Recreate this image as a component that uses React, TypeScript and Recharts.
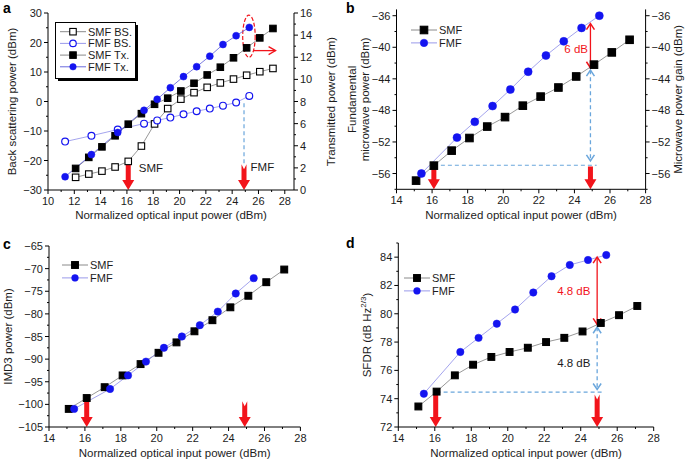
import React from 'react';
import {
  ComposedChart, Line, XAxis, YAxis, ReferenceLine, ReferenceArea, ReferenceDot, Legend,
} from 'recharts';

const FONT = '"Liberation Sans", Arial, Helvetica, sans-serif';
const RED = '#f2141b';
const BLUE = '#1414f0';
const SKY = '#6aa6dc';
const GREY_LINE = '#7d7d7d';
const LILAC_LINE = '#8d8de8';
const DEEP_LINE = '#5a5ad8';
const INK = '#1c1c1c';

// panel a: back scattering (left axis) and transmitted power (right axis)
const aSmfX = [12.1, 13.1, 14.1, 15.1, 16.1, 17.1, 18.1, 19.1, 20.1, 21.1, 22.1, 23.1, 24.1, 25.1, 26.1, 27.1];
const aSmfBs = [-25.7, -24.6, -23.6, -22.2, -20.3, -15.1, -7.6, -2.4, 0.8, 3.0, 4.8, 6.3, 7.6, 8.9, 10.1, 11.2];
const aSmfTx = [1.95, 2.95, 3.9, 4.9, 5.95, 6.9, 7.75, 8.3, 8.95, 9.65, 10.4, 11.1, 11.95, 12.85, 13.75, 14.6];
const aFmfX = [11.3, 13.3, 15.3, 17.3, 18.3, 19.3, 20.3, 21.3, 22.3, 23.3, 24.3, 25.3];
const aFmfBs = [-13.6, -11.6, -9.5, -7.5, -6.4, -5.45, -4.35, -3.3, -2.4, -1.4, -0.35, 1.9];
const aFmfTx = [1.2, 3.2, 5.2, 7.2, 8.2, 9.25, 10.25, 11.15, 12.1, 13.15, 13.95, 14.7];

// panels b-d share the input power steps
const smfX = [15.1, 16.1, 17.1, 18.1, 19.1, 20.1, 21.1, 22.1, 23.1, 24.1, 25.1, 26.1, 27.1];
const fmfX = [15.4, 17.4, 18.4, 19.4, 20.4, 21.4, 22.4, 23.4, 24.4, 25.4];

const bSmf = [-56.9, -55.0, -53.1, -51.5, -50.05, -48.85, -47.4, -46.25, -45.1, -43.7, -42.2, -40.65, -39.05];
const bFmf = [-56.0, -51.45, -49.45, -47.45, -45.35, -43.1, -41.05, -39.25, -37.55, -36.0];

const cSmf = [-101.0, -98.6, -96.2, -93.6, -91.1, -88.6, -86.3, -83.85, -81.4, -78.55, -76.0, -73.0, -70.2];
const cFmf = [-101.0, -96.6, -93.6, -90.55, -87.5, -85.0, -82.5, -79.5, -75.5, -72.1];

const dSmf = [73.45, 74.5, 75.65, 76.4, 76.95, 77.3, 77.6, 78.0, 78.3, 78.75, 79.35, 79.9, 80.55];
const dFmf = [74.35, 77.3, 78.3, 79.3, 80.3, 81.5, 82.65, 83.45, 83.8, 84.15];

// axis ticks (minor ticks carry no label)
const steps = (from: number, to: number, step: number) => {
  const out: number[] = [];
  for (let v = from; v <= to + 1e-9; v += step) out.push(Math.round(v * 100) / 100);
  return out;
};
const aXTicks = steps(10, 28, 1);
const aLTicks = steps(-30, 30, 5);
const aRTicks = steps(0, 16, 1);
const xTicks = steps(14, 28, 1);
const bYTicks = steps(-58, -36, 2);
const cYTicks = steps(-105, -65, 2.5);
const dYTicks = steps(72, 85, 1);

const pts = (xs: number[], ys: number[]) => xs.map((x, i) => ({ x, y: ys[i] }));
const minus = (v: number) => String(v).replace('-', '\u2212');

const axisTick = (side: 'bottom' | 'left' | 'right', isMajor: (v: number) => boolean) => (p: any) => {
  const { x, y, payload } = p;
  const v = payload.value;
  const big = isMajor(v);
  const len = big ? 4 : 2;
  if (side === 'bottom') {
    return (
      <g>
        <line x1={x} y1={y} x2={x} y2={y + len} stroke="#000" />
        {big && <text x={x} y={y + 15} textAnchor="middle" fontSize={11} fill={INK}>{minus(v)}</text>}
      </g>
    );
  }
  const s = side === 'left' ? -1 : 1;
  return (
    <g>
      <line x1={x} y1={y} x2={x + s * len} y2={y} stroke="#000" />
      {big && (
        <text x={x + s * 6} y={y + 4} textAnchor={side === 'left' ? 'end' : 'start'} fontSize={11} fill={INK}>
          {minus(v)}
        </text>
      )}
    </g>
  );
};

const even = (v: number) => v % 2 === 0;

const hTitle = (text: string, base: number) => (p: any) => {
  const vb = p.viewBox || { x: 0, y: 0, width: 0, height: 0 };
  return (
    <text x={vb.x + vb.width / 2} y={vb.y + base} textAnchor="middle" fontSize={11.5} fill={INK}>{text}</text>
  );
};

const vTitle = (lines: React.ReactNode[], dxs: number[]) => (p: any) => {
  const vb = p.viewBox || { x: 0, y: 0, width: 0, height: 0 };
  const cy = vb.y + vb.height / 2;
  return (
    <g>
      {lines.map((ln, i) => {
        const cx = vb.x + vb.width / 2 + dxs[i];
        return (
          <text key={i} x={cx} y={cy} transform={`rotate(-90 ${cx} ${cy})`} textAnchor="middle"
            dominantBaseline="central" fontSize={11.5} fill={INK}>{ln}</text>
        );
      })}
    </g>
  );
};

type MarkKind = 'square' | 'openSquare' | 'dot' | 'ring';

const Mark = ({ kind, cx, cy, s }: { kind: MarkKind; cx: number; cy: number; s: number }) => {
  if (kind === 'square' || kind === 'openSquare') {
    return (
      <rect x={cx - s / 2} y={cy - s / 2} width={s} height={s}
        fill={kind === 'square' ? '#000' : '#fff'} stroke="#000" strokeWidth={1.1} />
    );
  }
  return (
    <circle cx={cx} cy={cy} r={s / 2} fill={kind === 'dot' ? BLUE : '#fff'} stroke={BLUE}
      strokeWidth={kind === 'ring' ? 1.2 : 0.5} />
  );
};

const markDot = (kind: MarkKind, s: number) => (p: any) => (
  <Mark key={`m-${p.index}`} kind={kind} cx={p.cx} cy={p.cy} s={s} />
);

// thick red "look here" arrow, drawn along a reference segment
const fatArrow = (notch = false) => (p: any) => {
  const x = p.x1;
  const top = Math.min(p.y1, p.y2);
  const bot = Math.max(p.y1, p.y2);
  const sw = 2.5, hw = 6, hh = 10, n = notch ? 5 : 0;
  const d = `M${x - sw},${top} L${x},${top + n} L${x + sw},${top} L${x + sw},${bot - hh} L${x + hw},${bot - hh} `
    + `L${x},${bot} L${x - hw},${bot - hh} L${x - sw},${bot - hh} Z`;
  return <path d={d} fill={RED} />;
};

const twoHead = (color: string, dashed: boolean) => (p: any) => {
  const x = p.x1;
  const top = Math.min(p.y1, p.y2);
  const bot = Math.max(p.y1, p.y2);
  return (
    <g>
      <line x1={x} y1={top} x2={x} y2={bot} stroke={color} strokeWidth={1.3} strokeDasharray={dashed ? '4 3' : undefined} />
      <polyline points={`${x - 4},${top + 6} ${x},${top} ${x + 4},${top + 6}`} fill="none" stroke={color} strokeWidth={1.5} />
      <polyline points={`${x - 4},${bot - 6} ${x},${bot} ${x + 4},${bot - 6}`} fill="none" stroke={color} strokeWidth={1.5} />
    </g>
  );
};

const rightArrow = (p: any) => {
  const y = p.y1;
  const x1 = Math.min(p.x1, p.x2);
  const x2 = Math.max(p.x1, p.x2);
  return (
    <g>
      <line x1={x1} y1={y} x2={x2} y2={y} stroke={RED} strokeWidth={1.3} />
      <polyline points={`${x2 - 7},${y - 4} ${x2},${y} ${x2 - 7},${y + 4}`} fill="none" stroke={RED} strokeWidth={1.3} />
    </g>
  );
};

const dashedEllipse = (p: any) => (
  <ellipse cx={p.x + p.width / 2} cy={p.y + p.height / 2} rx={p.width / 2} ry={p.height / 2}
    fill="none" stroke={RED} strokeWidth={1.2} strokeDasharray="4 2" />
);

const note = (text: string, color: string, anchor: 'start' | 'middle' | 'end') => (p: any) => (
  <text x={p.cx} y={p.cy} dy={4} textAnchor={anchor} fontSize={11.5} fill={color}>{text}</text>
);

type KeyRow = { label: string; kind: MarkKind; stroke: string };

const KeyBlock = ({ rows, boxed, size }: { rows: KeyRow[]; boxed?: boolean; size: number }) => {
  const rowH = boxed ? 11.7 : 12.9;
  const y0 = boxed ? 9.7 : 8;
  const w = boxed ? 80 : 70;
  const h = boxed ? 56 : y0 + rowH * rows.length;
  return (
    <svg width={w + 4} height={h + 4} style={{ display: 'block', overflow: 'visible', fontFamily: FONT }}>
      {boxed && <rect x={3} y={3} width={w} height={h} fill="#000" />}
      {boxed && <rect x={0.5} y={0.5} width={w} height={h} fill="#fff" stroke="#000" />}
      {rows.map((r, i) => {
        const cy = y0 + i * rowH;
        return (
          <g key={r.label}>
            <line x1={5} x2={31} y1={cy} y2={cy} stroke={r.stroke} strokeWidth={0.9} />
            <Mark kind={r.kind} cx={18} cy={cy} s={size} />
            <text x={33} y={cy + 4} fontSize={11} fill={INK}>{r.label}</text>
          </g>
        );
      })}
    </svg>
  );
};

const aKey: KeyRow[] = [
  { label: 'SMF BS.', kind: 'openSquare', stroke: GREY_LINE },
  { label: 'FMF BS.', kind: 'ring', stroke: LILAC_LINE },
  { label: 'SMF Tx.', kind: 'square', stroke: GREY_LINE },
  { label: 'FMF Tx.', kind: 'dot', stroke: DEEP_LINE },
];
const pairKey: KeyRow[] = [
  { label: 'SMF', kind: 'square', stroke: GREY_LINE },
  { label: 'FMF', kind: 'dot', stroke: LILAC_LINE },
];

const xAxisProps = {
  dataKey: 'x',
  type: 'number' as const,
  interval: 0,
  tickSize: 0,
  tickMargin: 0,
  tickLine: false,
  axisLine: { stroke: '#000' },
  tick: axisTick('bottom', even),
};

const yAxisProps = {
  type: 'number' as const,
  interval: 0,
  tickSize: 0,
  tickMargin: 0,
  tickLine: false,
  axisLine: { stroke: '#000' },
  width: 40,
};

const dashed = { stroke: SKY, strokeWidth: 1.2, strokeDasharray: '4 3' };

const PanelA = () => (
  <ComposedChart width={345} height={230} margin={{ top: 13, right: 11, bottom: 10, left: 8 }}>
    <XAxis {...xAxisProps} domain={[10, 28.7]} ticks={aXTicks} height={30}
      label={{ position: 'center', content: hTitle('Normalized optical input power (dBm)', 29) }} />
    <YAxis {...yAxisProps} yAxisId="l" domain={[-30, 30]} ticks={aLTicks}
      tick={axisTick('left', (v) => v % 10 === 0)}
      label={{ position: 'center', content: vTitle(['Back scattering power (dBm)'], [-16]) }} />
    <YAxis {...yAxisProps} yAxisId="r" orientation="right" domain={[0, 16]} ticks={aRTicks}
      tick={axisTick('right', even)}
      label={{ position: 'center', content: vTitle(['Transmitted power (dBm)'], [17]) }} />
    <Legend layout="vertical" align="center" verticalAlign="middle"
      wrapperStyle={{ left: 55, top: 22, width: 90 }}
      content={() => <KeyBlock rows={aKey} boxed size={6.5} />} />

    <ReferenceLine yAxisId="l" ifOverflow="visible" segment={[{ x: 24.9, y: -0.6 }, { x: 24.9, y: -21.5 }]} {...dashed} />
    <Line name="SMF BS." data={pts(aSmfX, aSmfBs)} dataKey="y" yAxisId="l" type="linear" stroke={GREY_LINE}
      strokeWidth={0.8} dot={markDot('openSquare', 6.5)} activeDot={false} isAnimationActive={false} />
    <Line name="FMF BS." data={pts(aFmfX, aFmfBs)} dataKey="y" yAxisId="l" type="linear" stroke={LILAC_LINE}
      strokeWidth={0.8} dot={markDot('ring', 6.8)} activeDot={false} isAnimationActive={false} />
    <Line name="SMF Tx." data={pts(aSmfX, aSmfTx)} dataKey="y" yAxisId="r" type="linear" stroke={GREY_LINE}
      strokeWidth={0.8} dot={markDot('square', 6.5)} activeDot={false} isAnimationActive={false} />
    <Line name="FMF Tx." data={pts(aFmfX, aFmfTx)} dataKey="y" yAxisId="r" type="linear" stroke={DEEP_LINE}
      strokeWidth={0.8} dot={markDot('dot', 7)} activeDot={false} isAnimationActive={false} />

    <ReferenceLine yAxisId="l" ifOverflow="visible" segment={[{ x: 16.1, y: -21.3 }, { x: 16.1, y: -30 }]} shape={fatArrow()} />
    <ReferenceLine yAxisId="l" ifOverflow="visible" segment={[{ x: 24.9, y: -21.3 }, { x: 24.9, y: -30 }]} shape={fatArrow(true)} />
    <ReferenceDot yAxisId="l" x={16.9} y={-22.6} r={0} ifOverflow="visible" shape={note('SMF', INK, 'start')} />
    <ReferenceDot yAxisId="l" x={25.4} y={-22.3} r={0} ifOverflow="visible" shape={note('FMF', INK, 'start')} />
    <ReferenceArea yAxisId="r" x1={24.8} x2={25.75} y1={12.0} y2={15.8} ifOverflow="visible" shape={dashedEllipse} />
    <ReferenceLine yAxisId="r" ifOverflow="visible" segment={[{ x: 25.6, y: 12.6 }, { x: 27.3, y: 12.6 }]} shape={rightArrow} />
  </ComposedChart>
);

const PanelB = () => (
  <ComposedChart width={340} height={230} margin={{ top: 9.4, right: 0.4, bottom: 10.7, left: 11.5 }}>
    <XAxis {...xAxisProps} domain={[14, 28]} ticks={xTicks} height={30}
      label={{ position: 'center', content: hTitle('Normalized optical input power (dBm)', 30) }} />
    <YAxis {...yAxisProps} yAxisId="l" domain={[-58, -35.2]} ticks={bYTicks}
      tick={axisTick('left', (v) => v % 4 === 0)}
      label={{ position: 'center', content: vTitle(['Fundamental', 'microwave power (dBm)'], [-24, -11.5]) }} />
    <YAxis {...yAxisProps} yAxisId="r" orientation="right" width={39} domain={[-58, -35.2]} ticks={bYTicks}
      tick={axisTick('right', (v) => v % 4 === 0)}
      label={{ position: 'center', content: vTitle(['Microwave power gain (dBm)'], [13]) }} />
    <Legend layout="vertical" align="center" verticalAlign="middle"
      wrapperStyle={{ left: 61, top: 22, width: 80 }}
      content={() => <KeyBlock rows={pairKey} size={7.5} />} />

    {/* the gain axis shares the power scale; an unstroked copy of the SMF trace binds it */}
    <Line name="gain" legendType="none" data={pts(smfX, bSmf)} dataKey="y" yAxisId="r" type="linear"
      stroke="none" dot={false} activeDot={false} isAnimationActive={false} />
    <ReferenceLine yAxisId="l" ifOverflow="visible" segment={[{ x: 16.1, y: -54.95 }, { x: 25.25, y: -54.95 }]} {...dashed} />
    <ReferenceLine yAxisId="l" ifOverflow="visible" segment={[{ x: 24.9, y: -42.9 }, { x: 24.9, y: -54.4 }]} shape={twoHead(SKY, true)} />
    <Line name="SMF" data={pts(smfX, bSmf)} dataKey="y" yAxisId="l" type="linear" stroke={GREY_LINE}
      strokeWidth={0.8} dot={markDot('square', 7.5)} activeDot={false} isAnimationActive={false} />
    <Line name="FMF" data={pts(fmfX, bFmf)} dataKey="y" yAxisId="l" type="linear" stroke={LILAC_LINE}
      strokeWidth={0.8} dot={markDot('dot', 8)} activeDot={false} isAnimationActive={false} />

    <ReferenceLine yAxisId="l" ifOverflow="visible" segment={[{ x: 24.9, y: -37.0 }, { x: 24.9, y: -42.6 }]} shape={twoHead(RED, false)} />
    <ReferenceDot yAxisId="l" x={24.1} y={-40.2} r={0} ifOverflow="visible" shape={note('6 dB', RED, 'middle')} />
    <ReferenceLine yAxisId="l" ifOverflow="visible" segment={[{ x: 16.1, y: -55.1 }, { x: 16.1, y: -58 }]} shape={fatArrow()} />
    <ReferenceLine yAxisId="l" ifOverflow="visible" segment={[{ x: 24.9, y: -55.1 }, { x: 24.9, y: -58 }]} shape={fatArrow()} />
  </ComposedChart>
);

const PanelC = () => (
  <ComposedChart width={345} height={230} margin={{ top: 16, right: 44.6, bottom: 1, left: 9 }}>
    <XAxis {...xAxisProps} domain={[14, 28]} ticks={xTicks} height={32}
      label={{ position: 'center', content: hTitle('Normalized optical input power (dBm)', 30) }} />
    <YAxis {...yAxisProps} domain={[-105, -65]} ticks={cYTicks}
      tick={axisTick('left', (v) => v % 5 === 0)}
      label={{ position: 'center', content: vTitle(['IMD3 power (dBm)'], [-21]) }} />
    <Legend layout="vertical" align="center" verticalAlign="middle"
      wrapperStyle={{ left: 57, top: 27, width: 80 }}
      content={() => <KeyBlock rows={pairKey} size={6.8} />} />

    <Line name="SMF" data={pts(smfX, cSmf)} dataKey="y" type="linear" stroke={GREY_LINE}
      strokeWidth={0.8} dot={markDot('square', 6.8)} activeDot={false} isAnimationActive={false} />
    <Line name="FMF" data={pts(fmfX, cFmf)} dataKey="y" type="linear" stroke={LILAC_LINE}
      strokeWidth={0.8} dot={markDot('dot', 7.4)} activeDot={false} isAnimationActive={false} />

    <ReferenceLine ifOverflow="visible" segment={[{ x: 16.1, y: -99.3 }, { x: 16.1, y: -105 }]} shape={fatArrow()} />
    <ReferenceLine ifOverflow="visible" segment={[{ x: 24.9, y: -99.3 }, { x: 24.9, y: -105 }]} shape={fatArrow(true)} />
  </ComposedChart>
);

const PanelD = () => (
  <ComposedChart width={340} height={230} margin={{ top: 13, right: 31.3, bottom: 1, left: 13.3 }}>
    <XAxis {...xAxisProps} domain={[14, 28]} ticks={xTicks} height={32}
      label={{ position: 'center', content: hTitle('Normalized optical input power (dBm)', 30) }} />
    <YAxis {...yAxisProps} domain={[72, 85]} ticks={dYTicks}
      tick={axisTick('left', even)}
      label={{
        position: 'center',
        content: vTitle([
          <>SFDR (dB Hz<tspan dy={-4} fontSize={8}>2/3</tspan><tspan dy={4}>)</tspan></>,
        ], [-11.6]),
      }} />
    <Legend layout="vertical" align="center" verticalAlign="middle"
      wrapperStyle={{ left: 54, top: 40, width: 80 }}
      content={() => <KeyBlock rows={pairKey} size={6.8} />} />

    <ReferenceLine ifOverflow="visible" segment={[{ x: 16.1, y: 74.47 }, { x: 25.25, y: 74.47 }]} {...dashed} />
    <ReferenceLine ifOverflow="visible" segment={[{ x: 24.9, y: 79.05 }, { x: 24.9, y: 74.65 }]} shape={twoHead(SKY, true)} />
    <Line name="SMF" data={pts(smfX, dSmf)} dataKey="y" type="linear" stroke={GREY_LINE}
      strokeWidth={0.8} dot={markDot('square', 6.8)} activeDot={false} isAnimationActive={false} />
    <Line name="FMF" data={pts(fmfX, dFmf)} dataKey="y" type="linear" stroke={LILAC_LINE}
      strokeWidth={0.8} dot={markDot('dot', 7.4)} activeDot={false} isAnimationActive={false} />

    <ReferenceLine ifOverflow="visible" segment={[{ x: 24.9, y: 84.0 }, { x: 24.9, y: 79.25 }]} shape={twoHead(RED, false)} />
    <ReferenceDot x={23.62} y={81.6} r={0} ifOverflow="visible" shape={note('4.8 dB', RED, 'middle')} />
    <ReferenceDot x={23.62} y={76.55} r={0} ifOverflow="visible" shape={note('4.8 dB', INK, 'middle')} />
    <ReferenceLine ifOverflow="visible" segment={[{ x: 16.05, y: 74.3 }, { x: 16.05, y: 72 }]} shape={fatArrow()} />
    <ReferenceLine ifOverflow="visible" segment={[{ x: 24.9, y: 74.3 }, { x: 24.9, y: 72 }]} shape={fatArrow(true)} />
  </ComposedChart>
);

const tag: React.CSSProperties = { position: 'absolute', fontWeight: 700, fontSize: 14, lineHeight: '16px', color: '#000' };

export default function App() {
  return (
    <div style={{ position: 'absolute', left: 0, top: 0, width: 685, height: 460, background: '#fff', fontFamily: FONT, overflow: 'hidden' }}>
      <div style={{ position: 'absolute', left: 0, top: 0 }}><PanelA /></div>
      <div style={{ position: 'absolute', left: 345, top: 0 }}><PanelB /></div>
      <div style={{ position: 'absolute', left: 0, top: 230 }}><PanelC /></div>
      <div style={{ position: 'absolute', left: 345, top: 230 }}><PanelD /></div>
      <div style={{ ...tag, left: 3, top: 0 }}>a</div>
      <div style={{ ...tag, left: 346, top: 0 }}>b</div>
      <div style={{ ...tag, left: 3, top: 236 }}>c</div>
      <div style={{ ...tag, left: 346, top: 235 }}>d</div>
    </div>
  );
}
